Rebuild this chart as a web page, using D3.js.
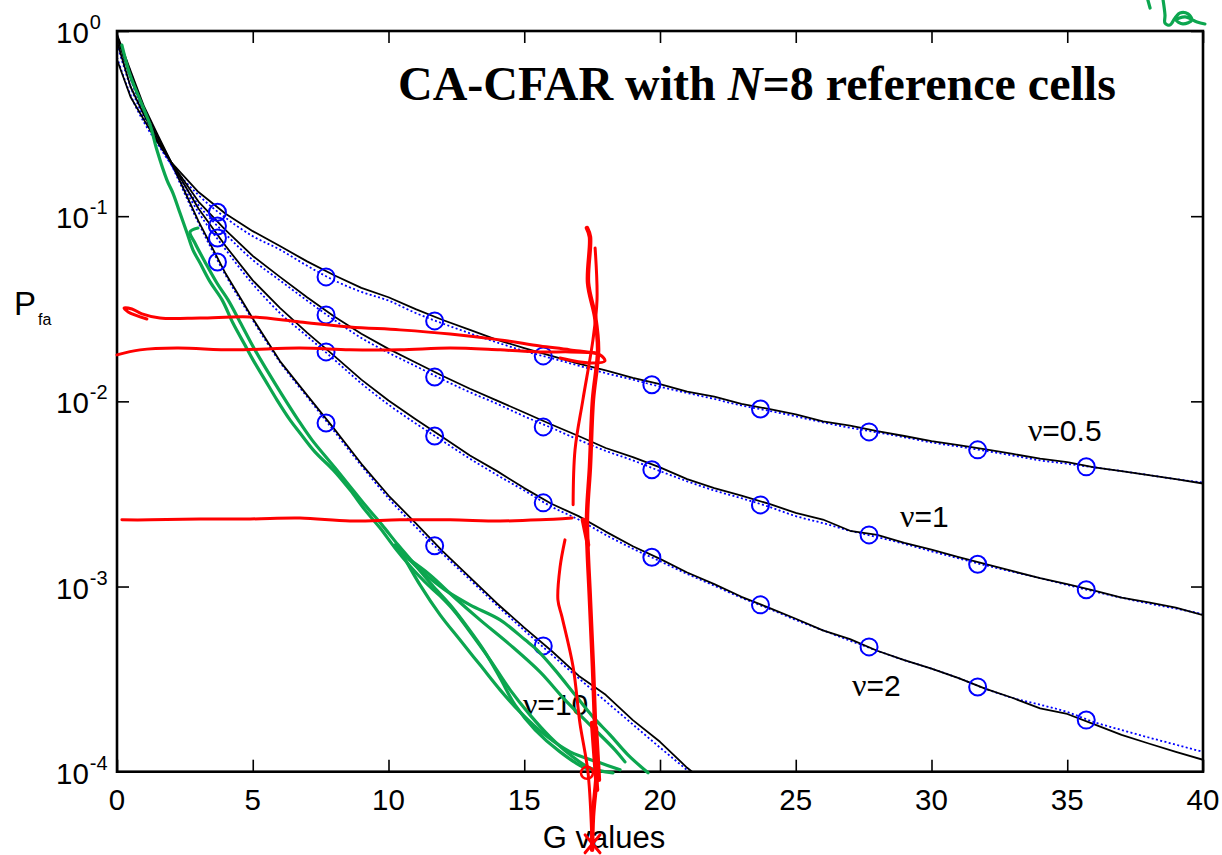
<!DOCTYPE html>
<html><head><meta charset="utf-8">
<script src="https://cdn.jsdelivr.net/npm/d3@7"></script>
<style>body{margin:0;background:#fff}</style>
</head><body>
<svg id="c" width="1222" height="855"></svg>
<script>
// ---------------- DATA ----------------
const gValues = [0,0.5,1,1.5,2,3,4,5,6,7,8,9,10,11,12,13,14,15,16,17,18,19,20,21,22,23,24,25,26,27,28,29,30,31,32,33,34,35,36,37,38,39,40];
const nuLabels = ["\u03bd=0.5","\u03bd=1","\u03bd=2","\u03bd=10"];
// analytic (blue dotted) curves
const theory05 = [0.72,0.45,0.32,0.245,0.19, 0.13,0.098,0.078,0.066,0.054,0.045,0.039,0.035,0.030,0.0263,0.0233,0.0208,0.0187,0.0171,0.0156,0.0142,0.0131,0.0120,0.0111,0.0103,0.0095,0.0089,0.0083,0.0077,0.0072,0.0068,0.0064,0.0060,0.0057,0.0054,0.0051,0.0048,0.0046,0.0044,0.0042,0.0040,0.0038,0.00365];
const theory1 = [0.85,0.5,0.34,0.25,0.19, 0.115,0.080,0.058,0.045,0.035,0.0275,0.022,0.0183,0.0155,0.0131,0.0112,0.0097,0.0083,0.0072,0.0062,0.0054,0.0048,0.0042,0.0037,0.0033,0.0030,0.0027,0.0024,0.0022,0.0020,0.00185,0.0017,0.00155,0.00142,0.00130,0.00120,0.00111,0.00102,0.00094,0.00087,0.00081,0.00076,0.00071];
const theory2 = [0.92,0.55,0.36,0.26,0.19, 0.105,0.066,0.043,0.030,0.0225,0.0168,0.0125,0.0096,0.0076,0.0061,0.0049,0.0040,0.0033,0.0027,0.0023,0.0019,0.0016,0.00137,0.00117,0.00101,0.00087,0.00076,0.00066,0.00058,0.00051,0.00045,0.00040,0.00036,0.00032,0.00028,0.00025,0.00023,0.00021,0.000185,0.000168,0.000153,0.00014,0.000128];
const theory10 = [0.95,0.6,0.38,0.27,0.19, 0.092,0.048,0.0275,0.0163,0.0106,0.0069,0.0045,0.0030,0.0021,0.00150,0.00109,0.00079,0.00058,0.00043,0.00032,0.00024,0.00018,0.000135,0.000102,0.000077,0.000058, null,null,null,null,null,null,null,null,null,null,null,null,null,null,null,null,null];
// simulated (black solid) curves
const sim05 = [0.70,0.44,0.33,0.25,0.195, 0.135,0.103,0.083,0.069,0.057,0.048,0.041,0.0365,0.0315,0.0275,0.0243,0.0215,0.0194,0.0176,0.0160,0.0147,0.0134,0.0124,0.0113,0.0106,0.0097,0.0091,0.0085,0.0078,0.0074,0.0069,0.0065,0.0061,0.0058,0.0055,0.0052,0.0049,0.0047,0.0044,0.0042,0.0040,0.0038,0.0036];
const sim1 = [0.88,0.5,0.35,0.255,0.195, 0.12,0.084,0.061,0.047,0.0365,0.0287,0.0232,0.0192,0.0162,0.0137,0.0117,0.0101,0.0087,0.0075,0.0065,0.0056,0.0050,0.0044,0.0038,0.0034,0.0031,0.0028,0.0025,0.0023,0.0020,0.0019,0.00172,0.00158,0.00144,0.00132,0.00121,0.00111,0.00103,0.00095,0.00087,0.00082,0.00077,0.00070];
const sim2 = [0.93,0.56,0.37,0.265,0.195, 0.11,0.069,0.045,0.032,0.0235,0.0176,0.0131,0.0101,0.0080,0.0064,0.0051,0.0042,0.0034,0.0028,0.0024,0.00198,0.00165,0.00141,0.00119,0.00103,0.00088,0.00077,0.00067,0.00058,0.00052,0.00045,0.00040,0.00036,0.00032,0.00028,0.00025,0.00022,0.000205,0.00018,0.000158,0.000142,0.000128,0.000116];
const sim10 = [0.96,0.61,0.39,0.275,0.195, 0.094,0.049,0.028,0.0165,0.0108,0.0071,0.0046,0.0031,0.0022,0.00155,0.00112,0.00081,0.0006,0.00045,0.00033,0.00026,0.00019,0.000145,0.000105,0.00008, null,null,null,null,null,null,null,null,null,null,null,null,null,null,null,null,null,null];
// circle markers
const markerG = [3.7,7.7,11.7,15.7,19.7,23.7,27.7,31.7,35.7];
const marker05 = [0.105,0.047,0.0272,0.0176,0.0123,0.0091,0.00684,0.00547,0.00443];
const marker1 = [0.0885,0.0293,0.01355,0.00728,0.00427,0.00276,0.0019,0.00132,0.00096];
const marker2 = [0.0762,0.0185,0.0065,0.00283,0.00144,0.000796,0.000472,0.000287,0.00019];
const marker10 = [0.0566,0.00764,0.00166,0.000478,null,null,null,null,null];
// curve label anchors [G, log10 Pfa]
const labelPos = [[33.55,-2.214],[28.84,-2.678],[27.07,-3.591],[14.95,-3.693]];
// axis ticks
const xTicks = [0,5,10,15,20,25,30,35,40];
const yExps = [0,-1,-2,-3,-4];
const titleText = ["CA-CFAR with ", "N", "=8 reference cells"];

// hand-drawn annotation strokes, in data units [G, log10 Pfa]
const redStrokes = [
 [[1.10,-1.555],[0.41,-1.517],[0.26,-1.496],[0.55,-1.501],[0.92,-1.528],[1.58,-1.550],[3.06,-1.550],[4.90,-1.544],[6.74,-1.571],[8.58,-1.598],[10.42,-1.614],[12.27,-1.636],[14.11,-1.668],[15.58,-1.701],[16.69,-1.722],[17.79,-1.749],[17.97,-1.782],[17.42,-1.793],[16.32,-1.766]],
 [[0,-1.749],[0.85,-1.722],[2.21,-1.712],[4.27,-1.722],[6.74,-1.712],[8.58,-1.722],[10.42,-1.722],[12.27,-1.712],[14.11,-1.722],[15.58,-1.733],[16.69,-1.733],[17.61,-1.738]],
 [[0.18,-2.640],[1.22,-2.640],[3.06,-2.635],[4.90,-2.635],[6.74,-2.630],[8.58,-2.646],[10.42,-2.640],[12.27,-2.640],[14.11,-2.646],[15.58,-2.640],[16.76,-2.630]],
 [[17.61,-1.172],[17.68,-1.452],[17.53,-1.668],[17.16,-1.992],[16.87,-2.262],[16.80,-2.559]],
 [[16.50,-2.748],[16.32,-2.894],[16.24,-3.072],[16.39,-3.164],[16.80,-3.434],[17.05,-3.737],[17.35,-4.006],[17.50,-4.406]],
 [[17.24,-4.341],[17.79,-4.438]],
 [[17.79,-4.341],[17.24,-4.438]]
];
const redThick = [
 [[17.31,-1.064],[17.42,-1.112],[17.35,-1.361],[17.61,-1.544],[17.72,-1.722],[17.53,-1.992],[17.42,-2.354],[17.31,-2.640],[17.42,-3.072],[17.53,-3.434],[17.61,-3.758],[17.68,-3.974],[17.53,-4.244],[17.50,-4.422]],
 [[17.50,-3.737],[17.68,-4.098]],
 [[17.64,-3.764],[17.75,-4.044]],
 [[17.16,-2.640],[17.35,-2.775]]
];
const redRing = [[17.31,-4.006]];
const greenStrokes = [
 [[0.18,-0.076],[0.48,-0.238],[0.85,-0.373],[1.22,-0.508],[1.47,-0.643],[1.84,-0.805],[2.06,-0.875],[2.32,-0.983],[2.58,-1.091],[2.80,-1.183],[3.06,-1.253],[3.43,-1.355],[3.87,-1.452],[4.27,-1.577],[4.71,-1.695],[5.01,-1.776],[5.45,-1.884],[5.89,-1.992],[6.37,-2.100],[6.74,-2.171],[7.29,-2.273],[7.96,-2.370],[8.58,-2.478],[9.13,-2.586],[9.69,-2.684],[10.24,-2.792],[10.79,-2.889],[11.34,-2.975],[11.90,-3.051],[12.45,-3.137],[13.00,-3.245],[13.74,-3.396],[14.48,-3.558],[15.21,-3.693],[15.95,-3.812],[16.69,-3.909],[17.42,-3.980],[18.27,-4.006]],
 [[2.98,-1.064],[2.69,-1.085],[2.87,-1.145],[3.24,-1.247],[3.68,-1.361],[4.09,-1.452],[4.53,-1.571],[5.08,-1.722],[5.56,-1.841],[6.08,-1.965],[6.67,-2.100],[7.18,-2.208],[7.85,-2.327],[8.51,-2.446],[9.13,-2.559],[9.76,-2.667],[10.35,-2.775],[10.98,-2.883],[11.60,-2.991],[12.27,-3.099],[12.93,-3.224],[13.55,-3.353],[14.11,-3.494],[14.66,-3.639],[15.40,-3.774],[16.32,-3.893],[17.24,-3.980],[17.68,-3.990]],
 [[10.24,-2.775],[11.16,-2.910],[12.08,-3.018],[13.00,-3.099],[14.11,-3.180],[15.03,-3.288],[15.47,-3.342],[16.13,-3.450],[16.87,-3.585],[17.53,-3.704],[18.16,-3.801],[18.82,-3.909],[19.56,-4.006]],
 [[10.42,-2.802],[11.16,-2.991],[11.90,-3.153],[12.63,-3.288],[13.37,-3.423],[14.11,-3.558],[14.84,-3.677],[15.76,-3.801],[16.69,-3.893],[17.79,-3.952],[18.53,-3.990]],
 [[10.79,-2.856],[11.53,-2.937],[12.45,-3.062],[13.37,-3.180],[14.48,-3.315],[15.58,-3.461],[16.50,-3.612],[17.42,-3.747],[18.34,-3.882],[18.71,-3.947]],
 [[37.97,0.167],[38.05,0.124]],
 [[38.53,0.167],[38.60,0.086],[38.60,0.043],[38.78,0.032],[38.97,0.070],[39.15,0.097],[39.45,0.092],[39.59,0.059],[39.26,0.038],[39.01,0.059],[39.34,0.076],[39.78,0.049],[40.07,0.038]]
];

// ---------------- CHART ----------------
const svg = d3.select("#c");
const x = d3.scaleLinear().domain([0,40]).range([117,1203]);
const y = d3.scaleLog().domain([1e-4,1]).range([771.7,31]);
const SANS = "'Liberation Sans', Arial, sans-serif";
const SERIF = "'Liberation Serif', 'Times New Roman', serif";

svg.append("defs").append("clipPath").attr("id","plotclip")
  .append("rect").attr("x",117).attr("y",31).attr("width",1086).attr("height",740.7);

// ticks (inward, all four sides)
const tickLen = 12;
const axB = svg.append("g").attr("transform","translate(0,771.7)")
  .call(d3.axisBottom(x).tickValues(xTicks).tickSizeInner(-tickLen).tickSizeOuter(0).tickFormat(""));
const axT = svg.append("g").attr("transform","translate(0,31)")
  .call(d3.axisTop(x).tickValues(xTicks).tickSizeInner(-tickLen).tickSizeOuter(0).tickFormat(""));
const yTickVals = yExps.map(e => Math.pow(10,e));
const axL = svg.append("g").attr("transform","translate(117,0)")
  .call(d3.axisLeft(y).tickValues(yTickVals).tickSizeInner(-tickLen).tickSizeOuter(0).tickFormat(""));
const axR = svg.append("g").attr("transform","translate(1203,0)")
  .call(d3.axisRight(y).tickValues(yTickVals).tickSizeInner(-tickLen).tickSizeOuter(0).tickFormat(""));
[axB,axT,axL,axR].forEach(a => {
  a.select(".domain").remove();
  a.selectAll("line").attr("stroke","#000").attr("stroke-width",1.6);
});

// curves
const plot = svg.append("g").attr("clip-path","url(#plotclip)");
const theories = [theory05,theory1,theory2,theory10];
const sims = [sim05,sim1,sim2,sim10];
const markers = [marker05,marker1,marker2,marker10];

const lineGen = (curve) => d3.line()
  .defined(d => d[1] != null)
  .x(d => x(d[0])).y(d => y(d[1])).curve(curve);

theories.forEach(arr => {
  plot.append("path").datum(gValues.map((g,i)=>[g,arr[i]]))
    .attr("d", lineGen(d3.curveMonotoneX))
    .attr("fill","none").attr("stroke","#0000ff").attr("stroke-width",1.8)
    .attr("stroke-dasharray","2,2.4");
});
sims.forEach(arr => {
  plot.append("path").datum(gValues.map((g,i)=>[g,arr[i]]))
    .attr("d", lineGen(d3.curveLinear))
    .attr("fill","none").attr("stroke","#000").attr("stroke-width",1.8)
    .attr("stroke-linejoin","round");
});
markers.forEach(arr => {
  plot.selectAll(null).data(markerG.map((g,i)=>[g,arr[i]]).filter(d=>d[1]!=null))
    .enter().append("circle")
    .attr("cx", d => x(d[0])).attr("cy", d => y(d[1])).attr("r", 8.5)
    .attr("fill","none").attr("stroke","#0000ff").attr("stroke-width",2);
});

// box
svg.append("rect").attr("x",117).attr("y",31).attr("width",1086).attr("height",740.7)
  .attr("fill","none").attr("stroke","#000").attr("stroke-width",2.6);

// x tick labels
svg.selectAll(null).data(xTicks).enter().append("text")
  .attr("x", d => x(d)).attr("y", 810)
  .attr("text-anchor","middle").attr("font-family",SANS).attr("font-size",29.5)
  .text(d => d);

// y tick labels 10^e
const yl = svg.selectAll(null).data(yExps).enter().append("text")
  .attr("x", 56).attr("y", d => y(Math.pow(10,d)) + 12)
  .attr("font-family",SANS).attr("font-size",29.5);
yl.append("tspan").text("10");
yl.append("tspan").attr("dy",-14).attr("dx",1).attr("font-size",20).text(d => d===0 ? "0" : String(d));

// axis labels
const pl = svg.append("text").attr("x",14).attr("y",315).attr("font-family",SANS).attr("font-size",33);
pl.append("tspan").text("P");
pl.append("tspan").attr("dy",10).attr("dx",2).attr("font-size",16).text("fa");
svg.append("text").attr("x",604).attr("y",848).attr("text-anchor","middle")
  .attr("font-family",SANS).attr("font-size",31).text("G values");

// title
const tt = svg.append("text").attr("x",398).attr("y",100)
  .attr("font-family",SERIF).attr("font-weight","bold").attr("font-size",48);
tt.append("tspan").text(titleText[0]);
tt.append("tspan").attr("font-style","italic").text(titleText[1]);
tt.append("tspan").text(titleText[2]);

// curve labels
labelPos.forEach((p,i) => {
  const t = svg.append("text").attr("x", x(p[0])).attr("y", y(Math.pow(10,p[1])))
    .attr("font-family",SANS).attr("font-size",30);
  t.append("tspan").attr("font-family",SERIF).attr("font-size",32).text(nuLabels[i][0]);
  t.append("tspan").text(nuLabels[i].slice(1));
});

// annotations
const ink = d3.line().x(d => x(d[0])).y(d => y(Math.pow(10,d[1]))).curve(d3.curveCatmullRom.alpha(0.5));
greenStrokes.forEach(s => svg.append("path").datum(s).attr("d",ink)
  .attr("fill","none").attr("stroke","#0ca64f").attr("stroke-width",3.2)
  .attr("stroke-linecap","round").attr("stroke-linejoin","round"));
redStrokes.forEach(s => svg.append("path").datum(s).attr("d",ink)
  .attr("fill","none").attr("stroke","#ff0000").attr("stroke-width",3)
  .attr("stroke-linecap","round").attr("stroke-linejoin","round"));
redThick.forEach(s => svg.append("path").datum(s).attr("d",ink)
  .attr("fill","none").attr("stroke","#ff0000").attr("stroke-width",4.5)
  .attr("stroke-linecap","round").attr("stroke-linejoin","round"));
svg.selectAll(null).data(redRing).enter().append("circle")
  .attr("cx", d => x(d[0])).attr("cy", d => y(Math.pow(10,d[1]))).attr("r",6)
  .attr("fill","none").attr("stroke","#ff0000").attr("stroke-width",2.5);
</script>
</body></html>
